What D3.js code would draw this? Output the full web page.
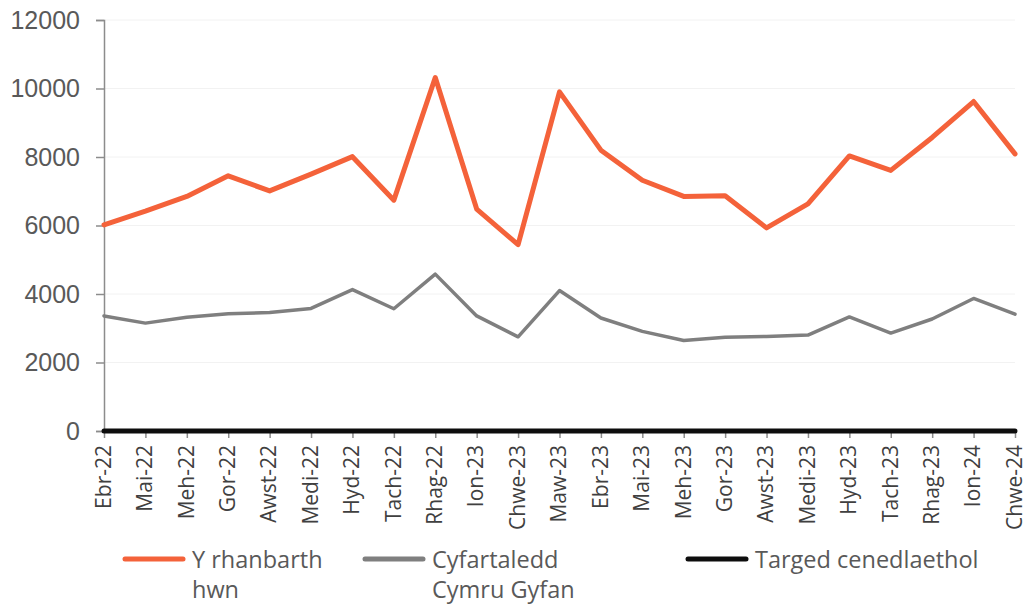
<!DOCTYPE html>
<html>
<head>
<meta charset="utf-8">
<script src="https://cdn.jsdelivr.net/npm/d3@7"></script>
<style>
  body { margin: 0; background: #fff; }
</style>
</head>
<body>
<svg id="chart"></svg>
<script>
const months = ["Ebr-22","Mai-22","Meh-22","Gor-22","Awst-22","Medi-22","Hyd-22","Tach-22","Rhag-22","Ion-23","Chwe-23","Maw-23","Ebr-23","Mai-23","Meh-23","Gor-23","Awst-23","Medi-23","Hyd-23","Tach-23","Rhag-23","Ion-24","Chwe-24"];
// Y rhanbarth hwn
const region = [6020,6420,6850,7450,7010,7500,8010,6740,10320,6480,5440,9900,8200,7320,6850,6870,5930,6630,8030,7610,8570,9620,8090];
// Cyfartaledd Cymru Gyfan
const walesAvg = [3360,3150,3320,3420,3460,3580,4130,3570,4580,3360,2750,4100,3300,2910,2640,2740,2760,2800,3330,2860,3270,3870,3410];
// Targed cenedlaethol
const target = [0,0,0,0,0,0,0,0,0,0,0,0,0,0,0,0,0,0,0,0,0,0,0];
const yTicks = [0,2000,4000,6000,8000,10000,12000];

const width = 1027, height = 607;
const margin = {top: 20, right: 12, bottom: 176, left: 104};

const svg = d3.select("#chart")
  .attr("width", width)
  .attr("height", height)
  .attr("viewBox", [0, 0, width, height]);

const x = d3.scalePoint()
  .domain(months)
  .range([margin.left, width - margin.right]);

const y = d3.scaleLinear()
  .domain([0, 12000])
  .range([height - margin.bottom, margin.top]);

//gridlines
svg.append("g")
  .selectAll("line")
  .data(yTicks.slice(1))
  .join("line")
  .attr("x1", margin.left)
  .attr("x2", width - margin.right)
  .attr("y1", d => y(d))
  .attr("y2", d => y(d))
  .attr("stroke", "#f2f2f2")
  .attr("stroke-width", 1);

//y axis
const yAxis = svg.append("g")
  .attr("transform", `translate(${margin.left},0)`)
  .call(d3.axisLeft(y).tickValues(yTicks).tickSize(8).tickPadding(16).tickFormat(d3.format("d")));
yAxis.select(".domain").attr("stroke", "#8c8c8c").attr("stroke-width", 1.5);
yAxis.selectAll(".tick line").attr("stroke", "#8c8c8c").attr("stroke-width", 1.5);
yAxis.selectAll("text")
  .attr("fill", "#595959")
  .style("font", "25px 'Liberation Sans', Arial, sans-serif");

//x axis
const xAxis = svg.append("g")
  .attr("transform", `translate(0,${y(0)})`)
  .call(d3.axisBottom(x).tickSize(7).tickSizeOuter(0));
xAxis.select(".domain").attr("stroke", "#8c8c8c").attr("stroke-width", 1.5);
xAxis.selectAll(".tick line").attr("stroke", "#8c8c8c").attr("stroke-width", 1.5);
xAxis.selectAll("text")
  .attr("fill", "#404040")
  .style("font", "21px 'Open Sans', sans-serif")
  .attr("text-anchor", "end")
  .attr("transform", "rotate(-90)")
  .attr("x", -14)
  .attr("y", 0)
  .attr("dy", "0.3em");

const line = d3.line()
  .x((d, i) => x(months[i]))
  .y(d => y(d));

const series = [
  {name: "Y rhanbarth hwn", lines: ["Y rhanbarth", "hwn"], values: region, color: "#f4623a", width: 5},
  {name: "Cyfartaledd Cymru Gyfan", lines: ["Cyfartaledd", "Cymru Gyfan"], values: walesAvg, color: "#7f7f7f", width: 3.5},
  {name: "Targed cenedlaethol", lines: ["Targed cenedlaethol"], values: target, color: "#0d0d0d", width: 5}
];

svg.append("g")
  .selectAll("path")
  .data(series)
  .join("path")
  .attr("d", s => line(s.values))
  .attr("fill", "none")
  .attr("stroke", s => s.color)
  .attr("stroke-width", s => s.width)
  .attr("stroke-linejoin", "round")
  .attr("stroke-linecap", "round");

//legend
const legX = [125, 365, 688];
const leg = svg.append("g")
  .selectAll("g")
  .data(series)
  .join("g")
  .attr("transform", (s, i) => `translate(${legX[i]},559)`);
leg.append("line")
  .attr("x1", 0)
  .attr("x2", 58)
  .attr("stroke", s => s.color)
  .attr("stroke-width", 5)
  .attr("stroke-linecap", "round");
leg.append("text")
  .attr("y", 9)
  .attr("fill", "#595959")
  .style("font", "23.5px 'Open Sans', sans-serif")
  .selectAll("tspan")
  .data(s => s.lines)
  .join("tspan")
  .attr("x", 67)
  .attr("dy", (d, i) => i ? 30 : 0)
  .text(d => d);
</script>
</body>
</html>
